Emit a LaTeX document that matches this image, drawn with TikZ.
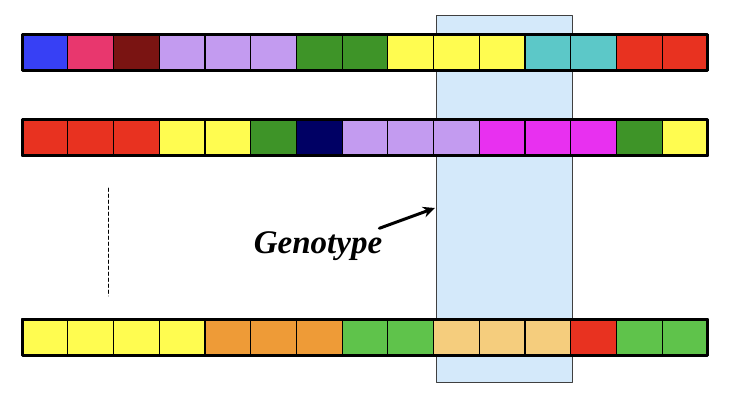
\documentclass[tikz,border=0pt]{standalone}
\usepackage{fontspec}
\setmainfont{Liberation Serif}
\usetikzlibrary{arrows.meta,positioning}
\definecolor{gblue}{RGB}{55,64,245}
\definecolor{gpink}{RGB}{232,55,110}
\definecolor{gmaroon}{RGB}{122,20,18}
\definecolor{glav}{RGB}{195,155,240}
\definecolor{gdgreen}{RGB}{62,148,40}
\definecolor{gyellow}{RGB}{255,252,80}
\definecolor{gteal}{RGB}{92,200,200}
\definecolor{gred}{RGB}{232,50,32}
\definecolor{gnavy}{RGB}{0,0,100}
\definecolor{gmag}{RGB}{232,48,240}
\definecolor{gorange}{RGB}{238,155,55}
\definecolor{glgreen}{RGB}{95,195,75}
\definecolor{gpeach}{RGB}{245,205,125}
\definecolor{winblue}{RGB}{212,233,250}
\tikzset{gene/.style={draw=black,line width=1.2pt,minimum width=45.73pt,minimum height=36pt,inner sep=0pt,outer sep=0pt}}

\begin{document}
\begin{tikzpicture}[line cap=round,line join=round,>=Stealth,x=1pt,y=-1pt]
                \useasboundingbox (0,0) rectangle (738,406);
                % genotype window
                \draw [fill=winblue,draw=black!75,line width=0.8pt] (436,15) rectangle (572,382);
                % chromosomes
                \foreach \c [count=\i] in {gblue,gpink,gmaroon,glav,glav,glav,gdgreen,gdgreen,gyellow,gyellow,gyellow,gteal,gteal,gred,gred}
                    \node[gene,fill=\c] (a\i) at ({22+45.73*(\i-0.5)},52.5) {};
                \draw [line width=3pt] (a1.north west) rectangle (a15.south east);
                \foreach \c [count=\i] in {gred,gred,gred,gyellow,gyellow,gdgreen,gnavy,glav,glav,glav,gmag,gmag,gmag,gdgreen,gyellow}
                    \node[gene,fill=\c] (b\i) at ({22+45.73*(\i-0.5)},138) {};
                \draw [line width=3pt] (b1.north west) rectangle (b15.south east);
                \foreach \c [count=\i] in {gyellow,gyellow,gyellow,gyellow,gorange,gorange,gorange,glgreen,glgreen,gpeach,gpeach,gpeach,gred,glgreen,glgreen}
                    \node[gene,fill=\c] (c\i) at ({22+45.73*(\i-0.5)},337) {};
                \draw [line width=3pt] (c1.north west) rectangle (c15.south east);
                % more rows
                \draw [line width=0.8pt,dash pattern=on 3.5pt off 2.5pt] (108,188) -- (108,296);
                % label
                \node[inner sep=0pt,font=\fontsize{33}{36}\selectfont\bfseries\itshape] (gtype) at (318,246) {Genotype};
                \coordinate (tip) at (435,208);
                \draw [-{Stealth[length=12pt,width=11pt]},line width=3pt] ([xshift=-3pt,yshift=3pt]gtype.north east) -- (tip);
            \end{tikzpicture}
\end{document}
